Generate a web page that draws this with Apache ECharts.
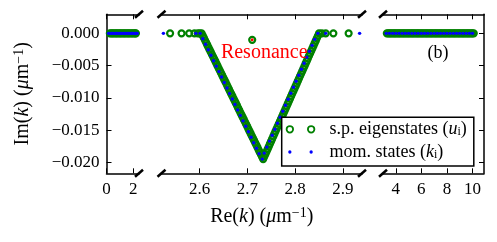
<!DOCTYPE html>
<html><head><meta charset="utf-8">
<script src="https://cdn.jsdelivr.net/npm/echarts@6/dist/echarts.min.js"></script>
<style>html,body{margin:0;padding:0;background:#fff}#c{width:497px;height:242px}</style>
</head><body><div id="c"></div>
<script>
// ---------------- data ----------------
// tick labels
const xTicks1 = [0, 2];
const xTicks2 = [2.6, 2.7, 2.8, 2.9];
const xTicks3 = [4, 6, 8, 10];
const yTicks = [0, -0.005, -0.01, -0.015, -0.02];

// panel 1 (Re k 0..2.4), all on Im k = 0
const sp1Re = [0.25,0.35,0.45,0.55,0.65,0.75,0.85,0.95,1.05,1.15,1.25,1.35,1.45,1.55,1.65,1.75,1.85,1.95,2.05,2.15,2.2];
const mom1Re = [0.15,0.25,0.35,0.45,0.55,0.65,0.75,0.85,0.95,1.05,1.15,1.25,1.35,1.45,1.55,1.65,1.75,1.85,1.95,2.05,2.15,2.25,2.3];

// panel 2 (the resonance V): s.p. eigenstates
const sp2Re = [2.538,2.562,2.578,2.589,2.596,2.6,
  2.604,2.6064,2.6088,2.6112,2.6136,2.6159,2.6183,2.6207,2.6231,2.6255,2.6279,2.6303,2.6327,2.6351,2.6374,2.6398,2.6422,2.6446,2.647,2.6494,2.6518,2.6542,2.6566,2.6589,2.6613,2.6637,2.6661,2.6685,2.6709,2.6733,2.6757,2.6781,2.6804,2.6828,2.6852,2.6876,2.69,2.6924,2.6948,2.6972,2.6996,2.7019,2.7043,2.7067,2.7091,2.7115,2.7139,2.7163,2.7187,2.7211,2.7234,2.7258,2.7282,2.7306,2.733,
  2.7353,2.7377,2.74,2.7424,2.7447,2.747,2.7494,2.7517,2.7541,2.7564,2.7587,2.7611,2.7634,2.7658,2.7681,2.7704,2.7728,2.7751,2.7775,2.7798,2.7821,2.7845,2.7868,2.7892,2.7915,2.7938,2.7962,2.7985,2.8009,2.8032,2.8055,2.8079,2.8102,2.8126,2.8149,2.8172,2.8196,2.8219,2.8243,2.8266,2.8289,2.8313,2.8336,2.836,2.8383,2.8406,2.843,2.8453,2.8477,2.85,
  2.856,2.864,2.88,2.912, 2.71];
const sp2Im = [0,0,0,0,0,0,
  0,-0.00036,-0.00072,-0.00108,-0.00144,-0.00181,-0.00217,-0.00253,-0.00289,-0.00325,-0.00361,-0.00397,-0.00433,-0.00469,-0.00506,-0.00542,-0.00578,-0.00614,-0.0065,-0.00686,-0.00722,-0.00758,-0.00794,-0.00831,-0.00867,-0.00903,-0.00939,-0.00975,-0.01011,-0.01047,-0.01083,-0.01119,-0.01156,-0.01192,-0.01228,-0.01264,-0.013,-0.01336,-0.01372,-0.01408,-0.01444,-0.01481,-0.01517,-0.01553,-0.01589,-0.01625,-0.01661,-0.01697,-0.01733,-0.01769,-0.01806,-0.01842,-0.01878,-0.01914,-0.0195,
  -0.01911,-0.01872,-0.01833,-0.01794,-0.01755,-0.01716,-0.01677,-0.01638,-0.01599,-0.0156,-0.01521,-0.01482,-0.01443,-0.01404,-0.01365,-0.01326,-0.01287,-0.01248,-0.01209,-0.0117,-0.01131,-0.01092,-0.01053,-0.01014,-0.00975,-0.00936,-0.00897,-0.00858,-0.00819,-0.0078,-0.00741,-0.00702,-0.00663,-0.00624,-0.00585,-0.00546,-0.00507,-0.00468,-0.00429,-0.0039,-0.00351,-0.00312,-0.00273,-0.00234,-0.00195,-0.00156,-0.00117,-0.00078,-0.00039,0,
  0,0,0,0, -0.001];
// panel 2: momentum states
const mom2Re = [2.524,2.592,
  2.601,2.6066,2.6122,2.6178,2.6234,2.629,2.6347,2.6403,2.6459,2.6515,2.6571,2.6627,2.6683,2.6739,2.6795,2.6851,2.6907,2.6964,2.702,2.7076,2.7132,2.7188,2.7244,2.731,
  2.7351,2.7406,2.7462,2.7518,2.7574,2.7629,2.7685,2.7741,2.7796,2.7852,2.7908,2.7964,2.8019,2.8075,2.8131,2.8186,2.8242,2.8298,2.8354,2.8409,2.8475,
  2.864,2.935];
const mom2Im = [0,0,
  0,-0.00085,-0.0017,-0.00254,-0.00339,-0.00424,-0.00509,-0.00593,-0.00678,-0.00763,-0.00848,-0.00933,-0.01017,-0.01102,-0.01187,-0.01272,-0.01357,-0.01441,-0.01526,-0.01611,-0.01696,-0.0178,-0.01865,-0.0195,
  -0.01857,-0.01764,-0.01671,-0.01579,-0.01486,-0.01393,-0.013,-0.01207,-0.01114,-0.01021,-0.00929,-0.00836,-0.00743,-0.0065,-0.00557,-0.00464,-0.00371,-0.00279,-0.00186,-0.00093,0,
  0,0];
const resRe = [2.71];
const resIm = [-0.001];

// panel 3 (Re k 3.2..10.1), all on Im k = 0
const sp3Re = [3.3,3.4,3.5,3.6,3.7,3.8,3.9,4.0,4.1,4.2,4.3,4.4,4.5,4.6,4.7,4.8,4.9,5.0,5.1,5.2,5.3,5.4,5.5,5.6,5.7,5.8,5.9,6.0,6.1,6.2,6.3,6.4,6.5,6.6,6.7,6.8,6.9,7.0,7.1,7.2,7.3,7.4,7.5,7.6,7.7,7.8,7.9,8.0,8.1,8.2,8.3,8.4,8.5,8.6,8.7,8.8,8.9,9.0,9.1,9.2,9.3,9.4,9.5,9.6,9.7,9.8,9.9,10.0,10.1];
const mom3Re = [3.25,3.5,3.75,4.0,4.25,4.5,4.75,5.0,5.25,5.5,5.75,6.0,6.25,6.5,6.75,7.0,7.25,7.5,7.75,8.0,8.25,8.5,8.75,9.0,9.25,9.5,9.75,10.0];

// ---------------- chart ----------------
const FONT = 'Liberation Serif';
const L1 = 106.5, R1 = 139, L2 = 161.5, R2 = 362, L3 = 383, R3 = 484, T = 14.3, B = 173.3;
const YMIN = -0.0217, YMAX = 0.00295;
const grids = [[L1, R1], [L2, R2], [L3, R3]].map(([l, r]) => ({ left: l, top: T, width: r - l, height: B - T }));
const xRanges = [[0, 2.43], [2.52, 2.94], [3.0, 10.9]];
const xTicks = [xTicks1, xTicks2, xTicks3];

const axLine = { show: true, onZero: false, lineStyle: { color: '#000', width: 1.5 } };
const tick = { show: true, inside: true, length: 5, lineStyle: { color: '#000', width: 1 } };
const labelBase = { color: '#000', fontFamily: FONT, fontSize: 17 };
const nameStyle = { color: '#000', fontFamily: FONT, fontSize: 20,
  rich: { it: { fontStyle: 'italic', fontFamily: FONT, fontSize: 20 }, sup: { fontFamily: FONT, fontSize: 14, verticalAlign: 'top' } } };

const xAxis = [];
for (let i = 0; i < 3; i++) {
  const bottom = {
    type: 'value', gridIndex: i, position: 'bottom', min: xRanges[i][0], max: xRanges[i][1],
    axisLine: axLine, axisTick: Object.assign({}, tick, { customValues: xTicks[i] }),
    axisLabel: Object.assign({}, labelBase, { customValues: xTicks[i], margin: 8, formatter: v => String(v) }),
    splitLine: { show: false }
  };
  if (i === 1) {
    bottom.name = 'Re({it|k}) ({it|μ}m{sup|−1})';
    bottom.nameLocation = 'middle';
    bottom.nameGap = 33;
    bottom.nameTextStyle = nameStyle;
  }
  xAxis.push(bottom);
  xAxis.push({
    type: 'value', gridIndex: i, position: 'top', min: xRanges[i][0], max: xRanges[i][1],
    axisLine: axLine, axisTick: Object.assign({}, tick, { customValues: xTicks[i] }),
    axisLabel: { show: false }, splitLine: { show: false }
  });
}

const yAxis = [
  { type: 'value', gridIndex: 0, position: 'left', min: YMIN, max: YMAX,
    axisLine: axLine, axisTick: Object.assign({}, tick, { customValues: yTicks }),
    axisLabel: Object.assign({}, labelBase, { customValues: yTicks, margin: 7,
      formatter: v => (Math.abs(v) < 1e-12 ? '0.000' : (v < 0 ? '{m|−}' : '') + Math.abs(v).toFixed(3)),
      rich: { m: { width: 13, fontFamily: FONT, fontSize: 17, color: '#000' } } }),
    splitLine: { show: false },
    name: 'Im({it|k}) ({it|μ}m{sup|−1})', nameLocation: 'middle', nameGap: 74,
    nameTextStyle: nameStyle },
  { type: 'value', gridIndex: 1, min: YMIN, max: YMAX, show: false, splitLine: { show: false } },
  { type: 'value', gridIndex: 2, position: 'right', min: YMIN, max: YMAX,
    axisLine: axLine, axisTick: Object.assign({}, tick, { customValues: yTicks }),
    axisLabel: { show: false }, splitLine: { show: false } }
];

const spStyle = { color: 'rgba(0,0,0,0)', borderColor: '#008000', borderWidth: 2.2, opacity: 1 };
const momStyle = { color: '#0000ff', opacity: 1 };
function sc(name, idx, data, size, style, z) {
  return { type: 'scatter', name, xAxisIndex: idx * 2, yAxisIndex: idx, data, symbol: 'circle',
    symbolSize: size, itemStyle: style, z, silent: true, animation: false };
}
const series = [
  sc('sp', 0, sp1Re.map(x => [x, 0]), 6, spStyle, 2),
  sc('mom', 0, mom1Re.map(x => [x, 0]), 3.4, momStyle, 3),
  sc('sp', 1, sp2Re.map((x, k) => [x, sp2Im[k]]), 6, spStyle, 2),
  sc('mom', 1, mom2Re.map((x, k) => [x, mom2Im[k]]), 3.4, momStyle, 3),
  sc('sp', 2, sp3Re.map(x => [x, 0]), 6, spStyle, 2),
  sc('mom', 2, mom3Re.map(x => [x, 0]), 3.4, momStyle, 3),
  Object.assign(sc('res', 1, resRe.map((x, k) => [x, resIm[k]]), 3, { color: '#ff0000', opacity: 1 }, 4), {
    label: { show: true, formatter: 'Resonance', position: 'inside', offset: [12, 13],
      color: '#ff0000', fontFamily: FONT, fontSize: 20 } })
];

const spIcon = 'path://M0,3.25a3.25,3.25 0 1,0 6.5,0a3.25,3.25 0 1,0 -6.5,0M21.3,3.25a3.25,3.25 0 1,0 6.5,0a3.25,3.25 0 1,0 -6.5,0';
const momIcon = 'path://M0,0l0.01,0l0,0.01zM27.8,6.5l-0.01,0l0,-0.01zM1.6,3.25a1.65,1.65 0 1,0 3.3,0a1.65,1.65 0 1,0 -3.3,0M22.9,3.25a1.65,1.65 0 1,0 3.3,0a1.65,1.65 0 1,0 -3.3,0';

function brk(x, y) {
  return { type: 'line', shape: { x1: x - 4, y1: y + 3.5, x2: x + 4, y2: y - 3.5 },
    style: { stroke: '#000', lineWidth: 2.5 }, z: 100 };
}

const option = {
  animation: false,
  backgroundColor: '#fff',
  grid: grids,
  xAxis, yAxis, series,
  legend: {
    left: 281.7, top: 117.3, orient: 'vertical', selectedMode: false,
    backgroundColor: '#fff', borderColor: '#000', borderWidth: 1.5, borderRadius: 0,
    padding: [3, 7, 5, 4], itemGap: 4.7, itemWidth: 34, itemHeight: 6.5,
    data: [
      { name: 'sp', icon: spIcon, itemStyle: { color: 'rgba(0,0,0,0)', borderColor: '#008000', borderWidth: 1.8, opacity: 1 } },
      { name: 'mom', icon: momIcon, itemStyle: { color: '#0000ff', borderWidth: 0, opacity: 1 } }
    ],
    formatter: n => n === 'sp' ? '{g|}s.p. eigenstates ({it|u}{sub|i})' : '{g|}mom. states ({it|k}{sub|i})',
    textStyle: { color: '#000', fontFamily: FONT, fontSize: 18, lineHeight: 18,
      rich: { g: { width: 7 }, it: { fontStyle: 'italic', fontFamily: FONT, fontSize: 18 },
        sub: { fontFamily: FONT, fontSize: 12, verticalAlign: 'bottom' } } }
  },
  graphic: [
    { type: 'text', x: 438, y: 53, z: 100,
      style: { text: '(b)', fontSize: 18, fontFamily: FONT, fill: '#000', align: 'center', verticalAlign: 'middle' } },
    brk(R1, T), brk(R1, B), brk(L2, T), brk(L2, B), brk(R2, T), brk(R2, B), brk(L3, T), brk(L3, B)
  ]
};

const chart = echarts.init(document.getElementById('c'), null, { renderer: 'canvas' });
chart.setOption(option);
</script>
</body></html>
